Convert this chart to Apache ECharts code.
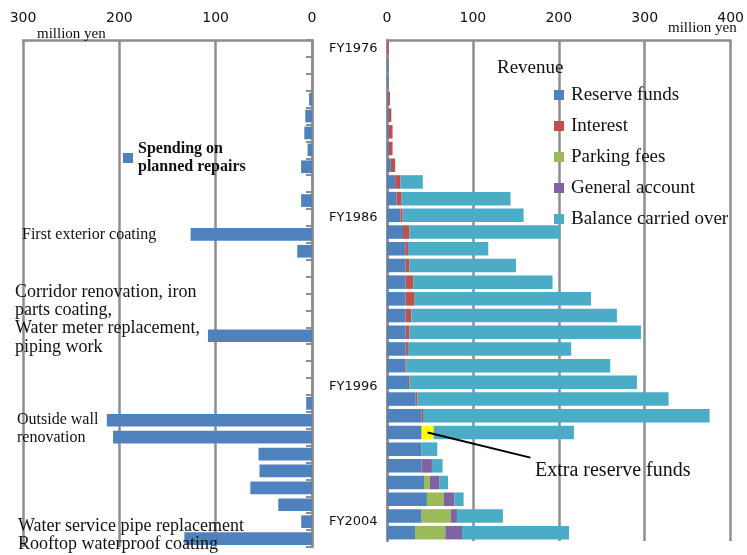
<!DOCTYPE html>
<html>
<head>
<meta charset="utf-8">
<script src="https://cdn.jsdelivr.net/npm/echarts@6/dist/echarts.min.js"></script>
<style>html,body{margin:0;padding:0;background:#fff}#c{width:747px;height:555px}</style>
</head>
<body>
<div id="c"></div>
<script>
const years = ['FY1976','FY1977','FY1978','FY1979','FY1980','FY1981','FY1982','FY1983','FY1984','FY1985',
  'FY1986','FY1987','FY1988','FY1989','FY1990','FY1991','FY1992','FY1993','FY1994','FY1995',
  'FY1996','FY1997','FY1998','FY1999','FY2000','FY2001','FY2002','FY2003','FY2004','FY2005'];
const shownYearLabels = ['FY1976','FY1986','FY1996','FY2004'];
const spending = [0,0,0,3,7,8,4.6,11.3,0,11.3, 0,126,15.3,0,0,0,0,108,0,0, 0,6,213,206.5,55.5,54.5,64,35,11.2,132.5];
const reserveFunds = [0.5,1.5,1.5,1.5,2,2,2,4.5,9.5,11.2, 15.5,18.6,21.3,21.7,21.7,21.7,21.7,21.7,21.7,21.7, 24.4,33.4,40.3,40.3,40.3,40.3,43.1,46.5,40.3,32.6];
const interest = [1.5,0.3,0.3,2,3,4.5,4.5,5,6.2,5.8, 2.7,7.4,3.1,4.3,8.9,10.5,6.6,4.3,2.7,1.2, 1.6,1.9,1.6,0,0,0,0,0,0,0];
const extraReserve = [0,0,0,0,0,0,0,0,0,0, 0,0,0,0,0,0,0,0,0,0, 0,0,0,14,0,0,0,0,0,0];
const parkingFees = [0,0,0,0,0,0,0,0,0,0, 0,0,0,0,0,0,0,0,0,0, 0,0,0,0,0,0,6.6,19.8,33.7,35.3];
const generalAccount = [0,0,0,0,0,0,0,0,0,0, 0,0,0,0,0,0,0,0,0,0, 0,0,0,0,0,12,11.6,12,7.4,19.4];
const balanceCarried = [0,0,0,0,0,0,0,0,26,126.8, 140.8,175.7,93.5,124.1,162.1,205.2,239.3,269.6,190,237, 264.9,292.5,333.6,163.3,18.2,12.4,9.7,10.9,53.5,124.5];
const revenueNames = ['Reserve funds','Interest','Parking fees','General account','Balance carried over'];
const spendingName = 'Spending on planned repairs';

const GRAY = '#8e8e8e';
const SERIF = '"Liberation Serif", "Times New Roman", serif';
const SANS = '"DejaVu Sans", Verdana, sans-serif';
const C = {blue:'#4F81BD', red:'#C0504D', green:'#9BBB59', purple:'#8064A2', teal:'#4BACC6', yellow:'#FFFF00'};

const chart = echarts.init(document.getElementById('c'), null, {renderer:'canvas'});

const valueAxisCommon = {
  type:'value', position:'top', min:0, interval:100,
  axisLine:{show:true, lineStyle:{color:GRAY, width:2.5}},
  axisTick:{show:false},
  splitLine:{show:true, lineStyle:{color:GRAY, width:2.5}},
  axisLabel:{fontFamily:SANS, fontSize:14, color:'#111', margin:15}
};

function stackBar(name, data, color) {
  return {name, type:'bar', stack:'rev', xAxisIndex:1, yAxisIndex:1, data,
    barCategoryGap:'19%', itemStyle:{color}, emphasis:{disabled:true}};
}

const option = {
  animation:false,
  grid:[
    {left:23, right:435, top:40, height:507},
    {left:387, right:16, top:40, height:501}
  ],
  xAxis:[
    Object.assign({}, valueAxisCommon, {gridIndex:0, max:300, inverse:true}),
    Object.assign({}, valueAxisCommon, {gridIndex:1, max:400})
  ],
  yAxis:[
    {type:'category', gridIndex:0, data:years, inverse:true, position:'right',
     axisLine:{show:true, lineStyle:{color:GRAY, width:2.5}},
     axisTick:{show:true, inside:true, length:6, interval:0, lineStyle:{color:GRAY, width:2}},
     axisLabel:{show:true, interval:(i, v) => shownYearLabels.includes(v), margin:17,
       fontFamily:SANS, fontSize:13, color:'#111'}},
    {type:'category', gridIndex:1, data:years, inverse:true,
     axisLine:{show:true, lineStyle:{color:GRAY, width:2.5}},
     axisTick:{show:false}, axisLabel:{show:false}}
  ],
  legend:[
    {data:revenueNames, orient:'vertical', left:549, top:80, itemWidth:10, itemHeight:10, itemGap:11,
     icon:'rect', selectedMode:false,
     textStyle:{fontFamily:SERIF, fontSize:19, color:'#111', lineHeight:20, padding:[0,0,0,2]}},
    {data:[spendingName], left:118, top:135, itemWidth:10, itemHeight:10, icon:'rect', selectedMode:false,
     formatter:() => 'Spending on\nplanned repairs',
     textStyle:{fontFamily:SERIF, fontSize:16, fontWeight:'bold', color:'#111', lineHeight:18}}
  ],
  series:[
    {name:spendingName, type:'bar', xAxisIndex:0, yAxisIndex:0, data:spending,
     barCategoryGap:'25%', itemStyle:{color:C.blue}, emphasis:{disabled:true}},
    stackBar('Reserve funds', reserveFunds, C.blue),
    stackBar('Interest', interest, C.red),
    stackBar('Extra reserve funds', extraReserve, C.yellow),
    stackBar('Parking fees', parkingFees, C.green),
    stackBar('General account', generalAccount, C.purple),
    stackBar('Balance carried over', balanceCarried, C.teal)
  ]
};
chart.setOption(option);

// annotation line from the extra reserve segment
const yi = years.indexOf('FY1999');
const startVal = reserveFunds[yi] + interest[yi] + extraReserve[yi] * 0.5;
const p0 = chart.convertToPixel({xAxisIndex:1, yAxisIndex:1}, [startVal, 'FY1999']);
const pRow = chart.convertToPixel({xAxisIndex:1, yAxisIndex:1}, [167, 'FY2000']);
const p1 = [pRow[0], pRow[1] + 8.5];

function txt(x, y, text, size) {
  return {type:'text', left:x, top:y, silent:true, z:100,
    style:{text, fontFamily:SERIF, fontSize:size, fill:'#111', lineHeight:size + 1}};
}

chart.setOption({
  graphic:[
    {type:'line', silent:true, z:100, shape:{x1:p0[0], y1:p0[1], x2:p1[0], y2:p1[1]}, style:{stroke:'#000', lineWidth:2}},
    txt(535, 460, 'Extra reserve funds', 20),
    txt(497, 58, 'Revenue', 19),
    txt(37, 26, 'million yen', 15),
    txt(668, 20, 'million yen', 15),
    txt(22, 226, 'First exterior coating', 16),
    {type:'text', left:15, top:283, silent:true, z:100,
     style:{text:'Corridor renovation, iron\nparts coating,\nWater meter replacement,\npiping work',
       fontFamily:SERIF, fontSize:18, fill:'#111', lineHeight:18.3}},
    {type:'text', left:17, top:411, silent:true, z:100,
     style:{text:'Outside wall\nrenovation', fontFamily:SERIF, fontSize:16, fill:'#111', lineHeight:18}},
    {type:'text', left:18, top:517, silent:true, z:100,
     style:{text:'Water service pipe replacement\nRooftop waterproof coating', fontFamily:SERIF, fontSize:18, fill:'#111', lineHeight:18.5}}
  ]
});
</script>
</body>
</html>
